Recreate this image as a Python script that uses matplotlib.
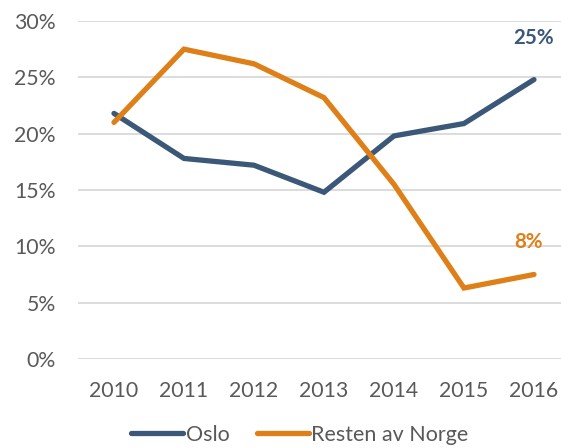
import matplotlib
matplotlib.use("Agg")
import matplotlib.pyplot as plt
from matplotlib.ticker import FuncFormatter

years = ["2010", "2011", "2012", "2013", "2014", "2015", "2016"]
oslo = [21.8, 17.8, 17.2, 14.8, 19.8, 20.9, 24.8]
resten = [21.0, 27.5, 26.2, 23.2, 15.5, 6.3, 7.5]
series_names = ["Oslo", "Resten av Norge"]
end_labels = ["25%", "8%"]

c_oslo = "#3B5879"
c_rest = "#DE7F18"
gray = "#595959"

plt.rcParams['font.family'] = ['Lato', 'DejaVu Sans']

fig = plt.figure(figsize=(5.61, 4.48), dpi=100)
ax = fig.add_axes([78/561, 1 - 359/448, (561-78)/561, (359-21)/448])

x = list(range(len(years)))
l1, = ax.plot(x, oslo, color=c_oslo, lw=3.8, solid_capstyle='round', solid_joinstyle='miter', label=series_names[0], zorder=3)
l2, = ax.plot(x, resten, color=c_rest, lw=3.8, solid_capstyle='round', solid_joinstyle='miter', label=series_names[1], zorder=3)

ax.set_ylim(0, 30)
ax.set_yticks([0, 5, 10, 15, 20, 25, 30])
ax.yaxis.set_major_formatter(FuncFormatter(lambda v, p: f"{int(v)}%"))
ax.set_xlim(-0.514, 6.386)
ax.set_xticks(x)
ax.set_xticklabels(years)
ax.grid(axis='y', color='#D9D9D9', lw=1.3)
ax.set_axisbelow(True)
for s in ax.spines.values():
    s.set_visible(False)
ax.tick_params(length=0, labelsize=15.3, colors=gray)
ax.tick_params(axis='y', pad=16)
ax.tick_params(axis='x', pad=16)

ax.annotate(end_labels[0], (6, oslo[-1]), xytext=(0, 23), textcoords='offset points',
            ha='center', va='bottom', color=c_oslo, fontsize=14.8, fontweight='bold')
ax.annotate(end_labels[1], (6, resten[-1]), xytext=(-4, 16), textcoords='offset points',
            ha='center', va='bottom', color=c_rest, fontsize=14.8, fontweight='bold')

leg = fig.legend(handles=[l1, l2], loc='center', bbox_to_anchor=(300/561, 1 - 435/448), ncol=2,
                 frameon=False, fontsize=15.5, handlelength=2.4, handletextpad=0.12, columnspacing=1.3)
for t in leg.get_texts():
    t.set_color(gray)

fig.savefig("out.png", dpi=100)
